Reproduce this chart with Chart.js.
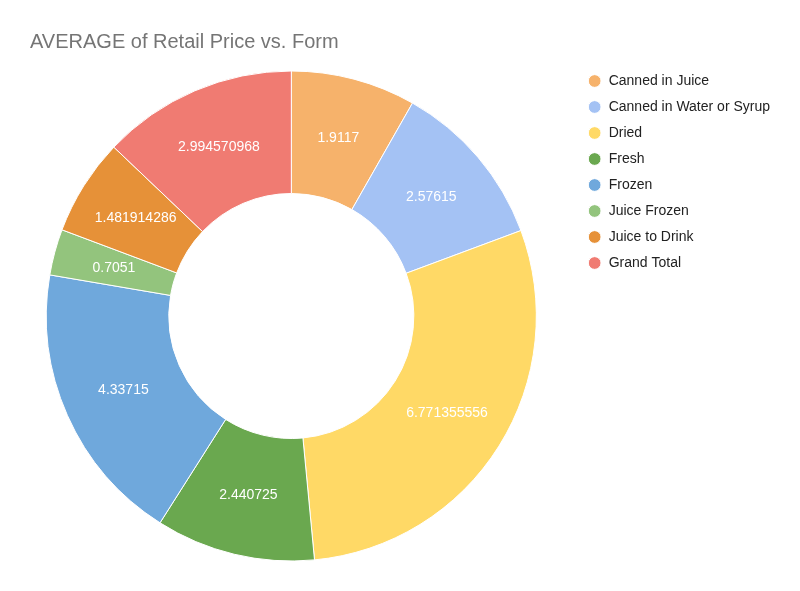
<!DOCTYPE html>
<html>
<head>
<meta charset="utf-8">
<script src="https://cdn.jsdelivr.net/npm/chart.js@4"></script>
<style>
  html, body { margin: 0; padding: 0; background: #fff; }
  #wrap { position: relative; width: 800px; height: 591px; }
</style>
</head>
<body>
<div id="wrap"><canvas id="formChart"></canvas></div>
<script>
const chartTitle = 'AVERAGE of Retail Price vs. Form';
const forms = ['Canned in Juice', 'Canned in Water or Syrup', 'Dried', 'Fresh', 'Frozen', 'Juice Frozen', 'Juice to Drink', 'Grand Total'];
const avgPrices = [1.9117, 2.57615, 6.771355556, 2.440725, 4.33715, 0.7051, 1.481914286, 2.994570968];
const sliceColors = ['#f6b26b', '#a4c2f4', '#ffd966', '#6aa84f', '#6fa8dc', '#93c47d', '#e69138', '#f07b72'];

window.addEventListener('DOMContentLoaded', function () {
    const font = 'Arial, "Liberation Sans", sans-serif';

    // title drawn by hand so it can sit left of the chart area
    const titlePlugin = {
        id: 'leftTitle',
        afterDraw: function (chart) {
            const ctx = chart.ctx;
            ctx.save();
            ctx.font = '20px ' + font;
            ctx.fillStyle = '#757575';
            ctx.textBaseline = 'middle';
            ctx.textAlign = 'left';
            ctx.fillText(chartTitle, 30, 42);
            ctx.restore();
        }
    };

    // value labels in the middle of each slice
    const valueLabels = {
        id: 'valueLabels',
        afterDatasetsDraw: function (chart) {
            const ctx = chart.ctx;
            const meta = chart.getDatasetMeta(0);
            ctx.save();
            ctx.font = '14px ' + font;
            ctx.fillStyle = '#ffffff';
            ctx.textAlign = 'center';
            ctx.textBaseline = 'middle';
            meta.data.forEach(function (arc, i) {
                const pos = arc.tooltipPosition();
                ctx.fillText(String(avgPrices[i]), pos.x, pos.y);
            });
            ctx.restore();
        }
    };

    new Chart(document.getElementById('formChart'), {
        type: 'doughnut',
        data: {
            labels: forms,
            datasets: [{
                data: avgPrices,
                backgroundColor: sliceColors,
                borderColor: '#ffffff',
                borderWidth: 1,
                radius: 245,
                cutout: '50%'
            }]
        },
        options: {
            responsive: true,
            maintainAspectRatio: false,
            animation: false,
            layout: { padding: { top: 62, bottom: 21, left: 7, right: 20 } },
            plugins: {
                title: { display: false },
                tooltip: { enabled: false },
                legend: {
                    position: 'right',
                    align: 'start',
                    labels: {
                        usePointStyle: true,
                        pointStyle: 'circle',
                        boxWidth: 16,
                        boxHeight: 9,
                        padding: 12,
                        color: '#222222',
                        font: { size: 14, family: font }
                    }
                }
            }
        },
        plugins: [titlePlugin, valueLabels]
    });
});
</script>
</body>
</html>
